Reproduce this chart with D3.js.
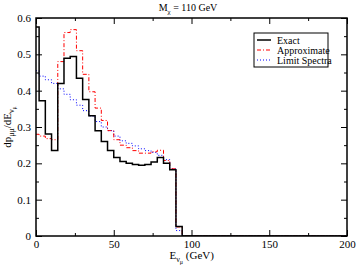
<!DOCTYPE html>
<html>
<head>
<meta charset="utf-8">
<script src="https://cdn.jsdelivr.net/npm/d3@7"></script>
<style>
body { margin: 0; background: #fff; }
text { font-family: "Liberation Serif", "DejaVu Serif", serif; }
</style>
</head>
<body>
<svg id="chart" width="357" height="267"></svg>
<script>
// bin centres (GeV), histogram drawn centred on each value
const energies = [0, 4, 8, 12, 16, 20, 24, 28, 32, 36, 40, 44, 48, 52, 56, 60, 64, 68, 72, 76, 80, 84, 88, 92];
const exact = [0.575, 0.372, 0.281, 0.235, 0.42, 0.489, 0.494, 0.434, 0.376, 0.331, 0.29, 0.26, 0.235, 0.216, 0.205, 0.2, 0.197, 0.195, 0.197, 0.204, 0.216, 0.2, 0.182, 0.026];
const approximate = [0.28, 0.275, 0.268, 0.265, 0.48, 0.56, 0.568, 0.51, 0.445, 0.397, 0.352, 0.318, 0.29, 0.265, 0.25, 0.243, 0.235, 0.228, 0.228, 0.232, 0.236, 0.208, 0.185, 0.025];
const limitSpectra = [0.455, 0.44, 0.43, 0.42, 0.405, 0.39, 0.375, 0.36, 0.345, 0.33, 0.315, 0.3, 0.29, 0.275, 0.262, 0.255, 0.248, 0.24, 0.235, 0.23, 0.222, 0.21, 0.185, 0.015];
const xTicks = [0, 50, 100, 150, 200];
const xMinor = [25, 75, 125, 175];
const yTicks = [0, 0.1, 0.2, 0.3, 0.4, 0.5, 0.6];
const yMinor = [0.05, 0.15, 0.25, 0.35, 0.45, 0.55];

const series = [
  { name: "Exact", values: exact, color: "#000", width: 1.5, dash: null },
  { name: "Approximate", values: approximate, color: "#ff0000", width: 1, dash: "4,2,1,2" },
  { name: "Limit Spectra", values: limitSpectra, color: "#0000ff", width: 1, dash: "1,2" }
];

const svg = d3.select("#chart");
const margin = { left: 36, right: 10, top: 18, bottom: 31 };
const W = 357, H = 267;
const x = d3.scaleLinear().domain([0, 200]).range([margin.left, W - margin.right]);
const y = d3.scaleLinear().domain([0, 0.6]).range([H - margin.bottom, margin.top]);

svg.append("clipPath").attr("id", "clip")
  .append("rect")
  .attr("x", x(0)).attr("y", y(0.6))
  .attr("width", x(200) - x(0)).attr("height", y(0) - y(0.6));

// centred step path: each value covers half way to its neighbours
function stepPath(vals) {
  const p = d3.path();
  const half = (energies[1] - energies[0]) / 2;
  vals.forEach((v, i) => {
    const x0 = Math.max(0, energies[i] - half), x1 = energies[i] + half;
    if (i === 0) p.moveTo(x(x0), y(v)); else p.lineTo(x(x0), y(v));
    p.lineTo(x(x1), y(v));
  });
  p.lineTo(x(energies[energies.length - 1] + half), y(0));
  p.lineTo(x(200), y(0));
  return p.toString();
}

const plot = svg.append("g").attr("clip-path", "url(#clip)");
series.slice().reverse().forEach(s => {
  plot.append("path")
    .attr("d", stepPath(s.values))
    .attr("fill", "none")
    .attr("stroke", s.color)
    .attr("stroke-width", s.width)
    .attr("stroke-dasharray", s.dash);
});

// axes, ticks inward on all four sides
function styleAxis(g) {
  g.attr("font-family", "Liberation Serif, DejaVu Serif, serif").attr("font-size", 11);
  g.select(".domain").remove();
  g.selectAll("line").attr("stroke", "#000");
  g.selectAll("text").attr("fill", "#000");
}
const yb = y(0), yt = y(0.6), xl = x(0), xr = x(200);
svg.append("g").attr("transform", `translate(0,${yb})`)
  .call(d3.axisBottom(x).tickValues(xTicks).tickSizeInner(-6).tickSizeOuter(0).tickPadding(4).tickFormat(d3.format("d")))
  .call(styleAxis);
svg.append("g").attr("transform", `translate(0,${yb})`)
  .call(d3.axisBottom(x).tickValues(xMinor).tickSize(-3).tickFormat(""))
  .call(styleAxis);
svg.append("g").attr("transform", `translate(0,${yt})`)
  .call(d3.axisTop(x).tickValues(xTicks).tickSize(-6).tickFormat(""))
  .call(styleAxis);
svg.append("g").attr("transform", `translate(0,${yt})`)
  .call(d3.axisTop(x).tickValues(xMinor).tickSize(-3).tickFormat(""))
  .call(styleAxis);
svg.append("g").attr("transform", `translate(${xl},0)`)
  .call(d3.axisLeft(y).tickValues(yTicks).tickSizeInner(-6).tickSizeOuter(0).tickPadding(5).tickFormat(d => d === 0 ? "0" : d3.format(".1f")(d)))
  .call(styleAxis);
svg.append("g").attr("transform", `translate(${xl},0)`)
  .call(d3.axisLeft(y).tickValues(yMinor).tickSize(-3).tickFormat(""))
  .call(styleAxis);
svg.append("g").attr("transform", `translate(${xr},0)`)
  .call(d3.axisRight(y).tickValues(yTicks).tickSize(-6).tickFormat(""))
  .call(styleAxis);
svg.append("g").attr("transform", `translate(${xr},0)`)
  .call(d3.axisRight(y).tickValues(yMinor).tickSize(-3).tickFormat(""))
  .call(styleAxis);

svg.append("rect")
  .attr("x", xl).attr("y", yt).attr("width", xr - xl).attr("height", yb - yt)
  .attr("fill", "none").attr("stroke", "#000").attr("stroke-width", 1.5);

// title
const title = svg.append("text").attr("x", 188).attr("y", 11)
  .attr("text-anchor", "middle").style("font-size", "10px");
title.append("tspan").text("M");
title.append("tspan").attr("dy", 3).style("font-size", "7px").text("χ");
title.append("tspan").attr("dy", -3).text(" = 110 GeV");

// x label
const xl2 = svg.append("text").attr("x", x(100) - 22).attr("y", 259).style("font-size", "11px");
xl2.append("tspan").text("E");
xl2.append("tspan").attr("dy", 3).style("font-size", "8px").text("ν");
xl2.append("tspan").attr("dy", 2).style("font-size", "6px").text("μ");
xl2.append("tspan").attr("dy", -5).text(" (GeV)");

// y label
const yl = svg.append("text")
  .attr("transform", `translate(11,${y(0.3)}) rotate(-90)`)
  .attr("text-anchor", "middle").style("font-size", "11px");
yl.append("tspan").text("dp");
yl.append("tspan").attr("dy", 3).style("font-size", "8px").text("μμ");
yl.append("tspan").attr("dy", -3).text("/dE");
yl.append("tspan").attr("dy", 3).style("font-size", "8px").text("ν");
yl.append("tspan").attr("dy", 2).style("font-size", "6px").text("μ");

// legend
const lg = svg.append("g").attr("transform", "translate(254,33)");
lg.append("rect").attr("width", 74).attr("height", 34)
  .attr("fill", "#fff").attr("stroke", "#000").attr("stroke-width", 1);
series.forEach((s, i) => {
  const yy = 7 + i * 10;
  lg.append("line").attr("x1", 3).attr("x2", 17).attr("y1", yy).attr("y2", yy)
    .attr("stroke", s.color).attr("stroke-width", s.width).attr("stroke-dasharray", s.dash);
  lg.append("text").attr("x", 23).attr("y", yy + 3.5).style("font-size", "10px").text(s.name);
});
</script>
</body>
</html>
